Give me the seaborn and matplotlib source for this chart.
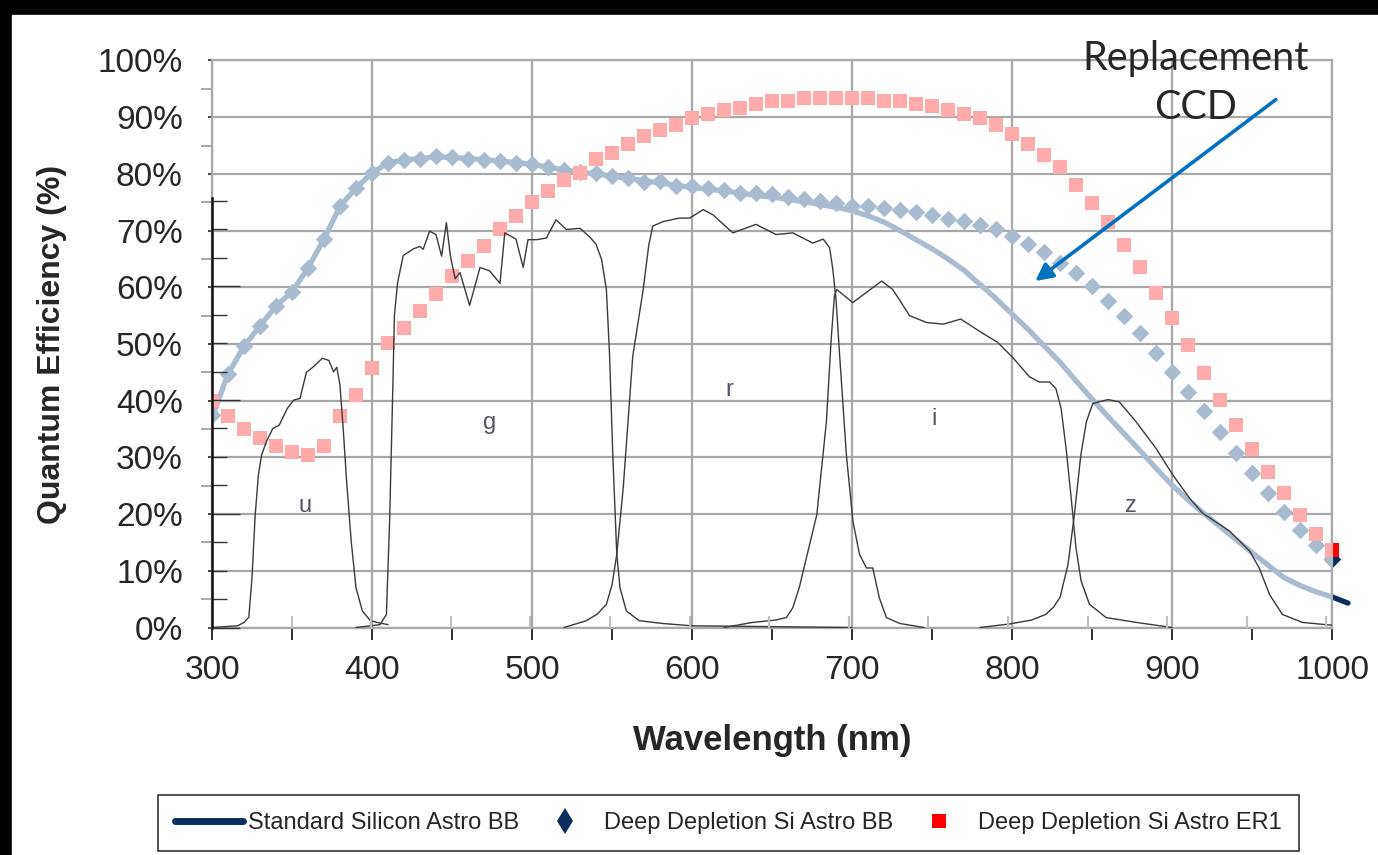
import numpy as np
import matplotlib
matplotlib.use("Agg")
import matplotlib.pyplot as plt
from matplotlib.lines import Line2D
from matplotlib.patches import Rectangle
import seaborn as sns

sns.set_theme(style="white")
plt.rcParams["font.family"] = ["Liberation Sans", "DejaVu Sans"]

# ---- data ----
wl_line = list(range(300, 1011, 10))
std_si = [37.0, 44.7, 49.6, 53.2, 56.7, 59.2, 63.4, 68.5, 74.3, 77.5,
          80.2, 81.9, 82.5, 82.7, 83.0, 82.9, 82.7, 82.5, 82.3, 82.0,
          81.7, 81.2, 80.7, 80.3, 80.0, 79.6, 79.2, 78.8, 78.4, 78.0,
          77.6, 77.3, 77.0, 76.6, 76.2, 75.9, 75.5, 75.1, 74.6, 74.1,
          73.5, 72.6, 71.5, 70.0, 68.4, 66.8, 65.0, 63.0, 60.5, 58.0,
          55.3, 52.6, 49.7, 46.8, 43.5, 40.3, 37.2, 34.2, 31.2, 28.1,
          25.1, 22.5, 20.1, 17.8, 15.5, 13.2, 11.0, 8.8, 7.4, 6.3,
          5.4, 4.3]

wl_pts = list(range(300, 1001, 10))
dd_bb = [37.5, 44.7, 49.6, 53.2, 56.7, 59.2, 63.4, 68.5, 74.3, 77.5,
         80.2, 81.9, 82.5, 82.7, 83.1, 82.9, 82.7, 82.5, 82.3, 82.0,
         81.8, 81.2, 80.6, 80.4, 80.1, 79.6, 79.2, 78.5, 78.7, 77.8,
         77.8, 77.5, 77.1, 76.7, 76.7, 76.4, 76.0, 75.6, 75.2, 74.8,
         74.4, 74.3, 73.9, 73.7, 73.2, 72.8, 72.0, 71.7, 71.0, 70.2,
         69.1, 67.6, 66.2, 64.3, 62.6, 60.3, 57.6, 55.0, 52.0, 48.5,
         45.0, 41.6, 38.1, 34.5, 30.7, 27.2, 23.8, 20.3, 17.2, 14.6,
         12.0]
dd_er1 = [39.9, 37.3, 35.0, 33.5, 32.0, 30.9, 30.4, 32.0, 37.3, 41.0,
          45.7, 50.2, 52.9, 55.8, 58.9, 62.0, 64.6, 67.3, 70.2, 72.6,
          75.0, 76.9, 78.9, 80.1, 82.6, 83.6, 85.2, 86.7, 87.8, 88.6,
          89.8, 90.5, 91.2, 91.7, 92.4, 92.9, 92.9, 93.3, 93.3, 93.3,
          93.3, 93.3, 92.9, 92.9, 92.4, 91.9, 91.3, 90.5, 89.8, 88.6,
          87.1, 85.2, 83.3, 81.2, 78.1, 74.9, 71.6, 67.4, 63.6, 59.0,
          54.5, 49.8, 44.9, 40.2, 35.8, 31.5, 27.4, 23.7, 19.9, 16.5,
          13.7]

# filter transmission curves
u_nm = [300, 316, 320, 323, 325, 327, 329, 331, 334, 338, 342, 347, 351, 355, 359,
        363, 369, 373, 376, 378, 380, 382, 384, 387, 390, 394, 399, 403, 410]
u_qe = [0, 0.3, 0.9, 1.8, 8.8, 19.9, 26.9, 30.4, 32.8, 35.1, 35.7, 38.6, 40.1, 40.4, 45.0,
        45.9, 47.5, 47.1, 45.1, 45.9, 42.7, 35.1, 26.3, 15.2, 7.0, 2.9, 1.2, 0.9, 0.5]
g_nm = [390, 405, 409, 411, 412, 413, 414, 416, 419.5, 426, 430, 432, 436, 440, 443.5,
        446.5, 449, 452, 455, 461, 467.5, 473.5, 480, 483, 490, 494.5, 497.5, 503, 509,
        515, 521.5, 530, 536, 540, 543.5, 546.5, 548.5, 550.5, 553, 555, 559, 567, 582,
        600, 700]
g_qe = [0, 0.5, 2.3, 18.7, 30.4, 42.1, 55.0, 60.8, 65.6, 66.8, 67.2, 66.7, 69.9, 69.3, 65.5,
        71.4, 65.5, 61.5, 62.6, 56.8, 63.5, 62.9, 60.7, 69.6, 68.5, 63.5, 68.4, 68.4, 68.7,
        71.9, 70.2, 70.4, 68.9, 67.6, 64.9, 59.6, 47.9, 30.4, 12.9, 7.0, 2.9, 1.2, 0.7,
        0.3, 0]
r_nm = [520, 534, 541, 546.5, 550, 553, 557, 563, 569.5, 573, 575.5, 582, 592, 598.5, 607,
        613, 625.5, 640, 652.5, 663, 675.5, 682, 686, 688, 690, 692.3, 696.5, 700.6, 704.7,
        709, 713, 717, 721.5, 730, 745]
r_qe = [0, 1.2, 2.4, 4.1, 7.5, 12.9, 24.6, 47.9, 59.6, 67.5, 70.8, 71.6, 72.2, 72.2, 73.7,
        72.8, 69.6, 71.1, 69.3, 69.6, 67.8, 68.5, 67.0, 63.2, 57.9, 47.9, 30.4, 18.7, 12.9,
        10.5, 10.5, 5.3, 1.75, 0.7, 0]
i_nm = [620, 638, 652, 659, 663, 667, 678, 684, 687, 689, 690.5, 700.5, 709, 718.5, 725.5,
        736, 746.5, 757, 768, 781, 791, 800.5, 811, 817, 823.5, 827.5, 830.7, 833.8, 837,
        840, 843.2, 848.4, 858.8, 877.6, 900]
i_qe = [0, 0.9, 1.3, 1.75, 3.5, 7.0, 19.9, 36.3, 50.9, 58.5, 59.6, 57.3, 59.1, 61.1, 59.6,
        55.0, 53.8, 53.5, 54.4, 52.0, 50.3, 47.6, 44.2, 43.3, 43.3, 42.1, 38.6, 31.6, 22.8,
        14.0, 8.2, 4.1, 1.75, 0.9, 0]
z_nm = [780, 798, 812, 821, 826, 830, 835, 839, 843, 846.5, 850.5, 860, 867, 877.5, 890,
        900.5, 911, 919, 936, 948.5, 954.5, 961, 969, 981.5, 1000]
z_qe = [0, 0.6, 1.3, 2.3, 3.6, 5.3, 11.1, 19.9, 30.4, 36.3, 39.5, 40.2, 39.8, 36.3, 31.6,
        26.9, 22.8, 20.2, 17.0, 13.5, 10.5, 5.8, 2.3, 0.9, 0.4]

filter_names = ["u", "g", "r", "i", "z"]
filter_label_pos = [(358, 21.4), (473.6, 36.0), (623.5, 41.8), (751.6, 36.8), (874.6, 21.4)]

legend_labels = ["Standard Silicon Astro BB", "Deep Depletion Si Astro BB",
                 "Deep Depletion Si Astro ER1"]

NAVY = "#0b2d5e"
RED = "#ff0000"
NAVY_FADED = "#a9bccf"
RED_FADED = "#ffabab"
GRID = "#a8a8a8"

W, H = 1378, 855
fig = plt.figure(figsize=(W / 100, H / 100), dpi=100, facecolor="black")
fig.add_artist(Rectangle((12 / W, 0), 1, 1 - 15 / H, transform=fig.transFigure,
                         color="white", zorder=-10))

ax = fig.add_axes([212 / W, (H - 627.5) / H, 1120 / W, 567 / H])
ax.set_facecolor("white")

# faded series (the chart sits under a translucent panel, only the tail sticks out)
sns.lineplot(x=wl_line, y=std_si, color=NAVY_FADED, lw=3.8, ax=ax, zorder=3)
sns.lineplot(x=wl_line[-2:], y=std_si[-2:], color=NAVY, lw=3.8, ax=ax, zorder=2,
             clip_on=False)
sns.scatterplot(x=wl_pts, y=dd_bb, marker="D", s=80, color=NAVY_FADED, linewidth=0,
                ax=ax, zorder=4)
sns.scatterplot(x=wl_pts[-1:], y=dd_bb[-1:], marker="D", s=80, color=NAVY, linewidth=0,
                ax=ax, zorder=2.05, clip_on=False)
sns.scatterplot(x=wl_pts, y=dd_er1, marker="s", s=100, color=RED_FADED, linewidth=0,
                ax=ax, zorder=5)
sns.scatterplot(x=wl_pts[-1:], y=dd_er1[-1:], marker="s", s=100, color=RED, linewidth=0,
                ax=ax, zorder=2.1, clip_on=False)

filters = [(u_nm, u_qe), (g_nm, g_qe), (r_nm, r_qe), (i_nm, i_qe), (z_nm, z_qe)]
for (xs, ys), name, (lx, ly) in zip(filters, filter_names, filter_label_pos):
    sns.lineplot(x=xs, y=ys, color="#3a3a3a", lw=1.0, ax=ax, zorder=6, estimator=None)
    ax.text(lx, ly, name, fontsize=17, color="#55556a", ha="center", va="center", zorder=7)

ax.set_xlim(300, 1000)
ax.set_ylim(0, 100)
ax.set_xticks(range(300, 1001, 100))
ax.set_xticks(range(350, 1000, 100), minor=True)
ax.set_yticks(range(0, 101, 10))
ax.set_yticklabels([f"{v}%" for v in range(0, 101, 10)])
ax.set_yticks(range(5, 100, 10), minor=True)
ax.tick_params(axis="x", which="both", direction="out", length=8.5, width=1.3,
               color="#222222", bottom=True, labelsize=24, pad=11)
ax.tick_params(axis="y", which="major", direction="out", length=3, width=1.2,
               color="#222222", left=True, labelsize=24, pad=18)
ax.tick_params(axis="y", which="minor", direction="out", length=8, width=1.2,
               color="#999999", left=True)
ax.grid(True, which="major", color=GRID, lw=1.6)
ax.set_axisbelow(True)
for sp in ax.spines.values():
    sp.set_color(GRID)
    sp.set_linewidth(1.6)
ax.set_xlabel("Wavelength (nm)", fontsize=25, fontweight="bold", labelpad=28)
ax.set_ylabel("Quantum Efficiency (%)", fontsize=23, fontweight="bold", labelpad=22)

# second (filter) axis pasted over the chart
ax2 = fig.add_axes([212 / W, (H - 627.5) / H, 1120 / W, (627.5 - 198) / H])
ax2.patch.set_visible(False)
for k in ["top", "right", "bottom"]:
    ax2.spines[k].set_visible(False)
ax2.spines["left"].set_color("#111111")
ax2.spines["left"].set_linewidth(1.8)
ax2.set_xlim(300, 1003.5)
ax2.set_ylim(0, 15.1)
ax2.set_yticks(range(0, 16, 4))
ax2.set_yticks(range(0, 16), minor=True)
ax2.set_xticks(range(350, 1001, 50))
ax2.tick_params(axis="y", which="major", direction="in", length=20, width=1.0,
                color="#333333", left=True, labelleft=False)
ax2.tick_params(axis="y", which="minor", direction="in", length=11, width=1.0,
                color="#333333", left=True)
ax2.tick_params(axis="x", which="major", direction="in", length=8.5, width=1.5,
                color="#c0c0c0", bottom=True, labelbottom=False)

# annotation
ax.annotate("", xy=(813.1, 60.8), xytext=(966.3, 93.4),
            arrowprops=dict(arrowstyle="-|>", color="#0070c0", lw=2.6, mutation_scale=26),
            annotation_clip=False, zorder=8)
ax.text(915.0, 96.0, "Replacement\nCCD", fontsize=28.5, family=["Lato", "DejaVu Sans"],
        ha="center", va="center", linespacing=1.4, clip_on=False, zorder=8)

handles = [Line2D([], [], color=NAVY, lw=5),
           Line2D([], [], color=NAVY, marker="d", ms=13, lw=0, markeredgewidth=0),
           Line2D([], [], color=RED, marker="s", ms=10, lw=0, markeredgewidth=0)]
leg = fig.legend(handles, legend_labels, loc="center", bbox_to_anchor=(0.5287, 0.0374),
                 ncol=3, frameon=True, fancybox=False, edgecolor="black", fontsize=17,
                 handlelength=2.9, handletextpad=0.2, columnspacing=0.5, borderpad=0.7)
leg.get_frame().set_linewidth(1.2)

fig.savefig("out.png", dpi=100, facecolor=fig.get_facecolor())
